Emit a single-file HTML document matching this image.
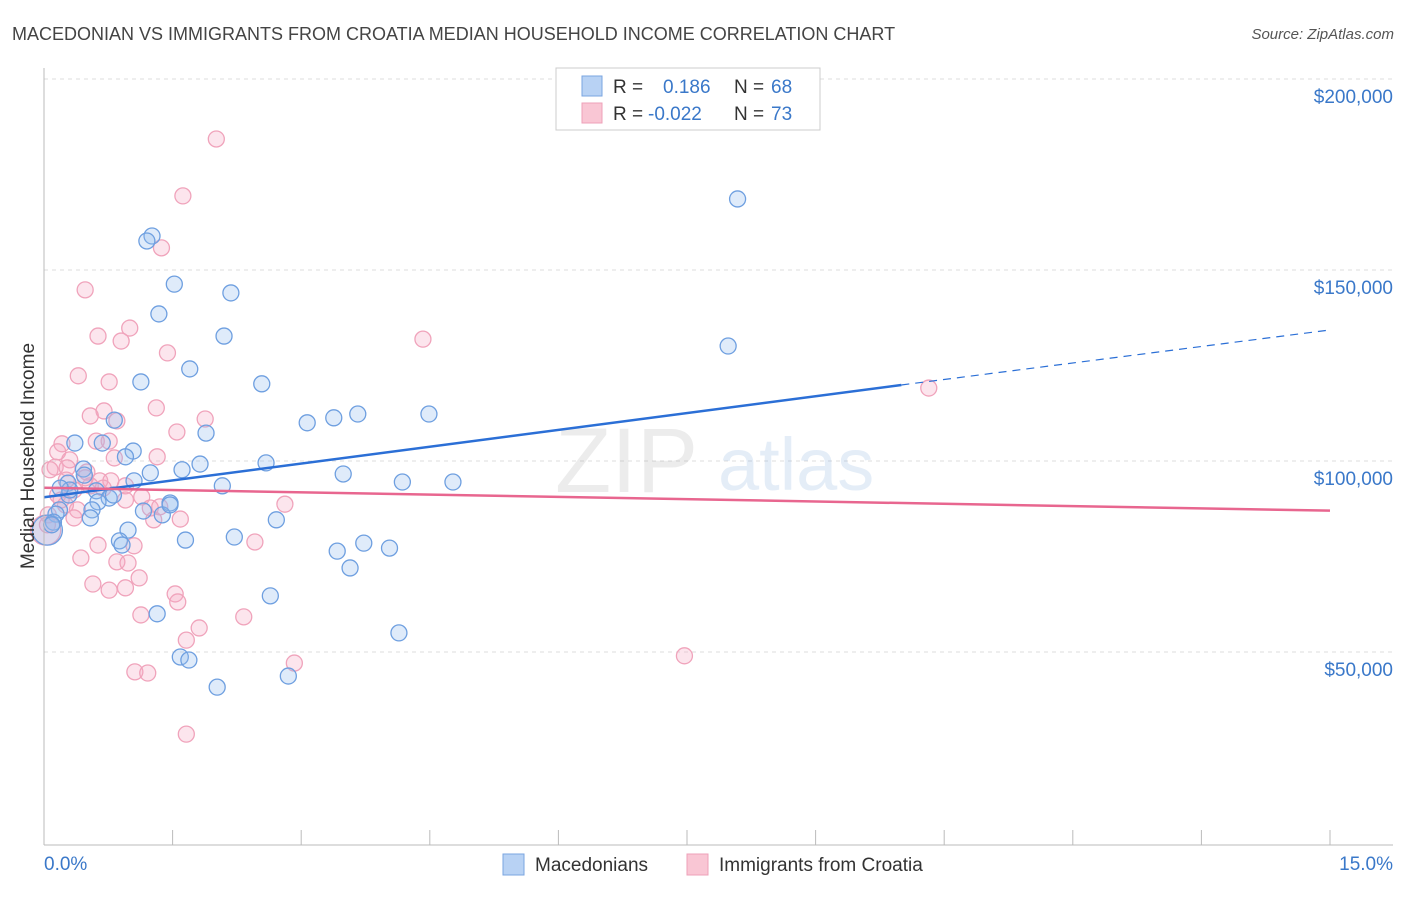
<!DOCTYPE html>
<html><head><meta charset="utf-8"><style>
body{margin:0;background:#fff;font-family:"Liberation Sans",sans-serif;}
svg text{font-family:"Liberation Sans",sans-serif;}
</style></head><body>
<svg id="chart" width="1406" height="892" viewBox="0 0 1406 892" xmlns="http://www.w3.org/2000/svg">
<text x="12" y="40" font-size="18" fill="#444">MACEDONIAN VS IMMIGRANTS FROM CROATIA MEDIAN HOUSEHOLD INCOME CORRELATION CHART</text>
<text x="1394" y="39" font-size="15" fill="#555" text-anchor="end" font-style="italic">Source: ZipAtlas.com</text>
<g id="grid"></g>
<g opacity="0.18">
<text x="555" y="492" font-size="92" fill="#999" font-family="Liberation Serif,serif">ZIP</text>
<text x="718" y="490" font-size="74" fill="#6f9fd8">atlas</text>
</g>
<g id="points"></g>
<g id="trends"></g>
<g id="axes"></g>
<text transform="translate(34,456) rotate(-90)" font-size="19" fill="#333" text-anchor="middle">Median Household Income</text>
<g>
<rect x="556" y="68" width="264" height="62" fill="#fff" stroke="#ccc"/>
<rect x="582" y="76" width="20" height="20" fill="#b8d2f4" stroke="#7aa5e0"/>
<rect x="582" y="103" width="20" height="20" fill="#f9c6d4" stroke="#eea0b8"/>
<text x="613" y="93" font-size="19" fill="#333">R = </text><text x="663" y="93" font-size="19" fill="#3a78c9">0.186</text>
<text x="734" y="93" font-size="19" fill="#333">N = </text><text x="771" y="93" font-size="19" fill="#3a78c9">68</text>
<text x="613" y="120" font-size="19" fill="#333">R = </text><text x="648" y="120" font-size="19" fill="#3a78c9">-0.022</text>
<text x="734" y="120" font-size="19" fill="#333">N = </text><text x="771" y="120" font-size="19" fill="#3a78c9">73</text>
</g>
<g>
<rect x="503" y="854" width="21" height="21" fill="#b8d2f4" stroke="#7aa5e0"/>
<text x="535" y="871" font-size="19" fill="#333">Macedonians</text>
<rect x="687" y="854" width="21" height="21" fill="#f9c6d4" stroke="#eea0b8"/>
<text x="719" y="871" font-size="19" fill="#333">Immigrants from Croatia</text>
</g>
</svg>
<script>
const blueX=[8.09,1.26,1.20,1.52,2.18,1.34,2.10,7.98,1.70,1.13,2.54,4.49,3.66,3.38,3.07,0.82,1.89,0.36,0.68,1.04,0.95,2.59,1.82,1.61,1.24,3.49,0.46,0.47,4.77,4.18,1.05,2.08,0.28,0.61,0.29,0.76,1.47,0.63,0.18,1.16,1.38,0.56,0.54,0.14,2.71,0.11,0.98,2.22,1.65,0.88,0.91,3.73,4.03,3.42,3.57,2.64,1.32,4.14,1.59,1.69,2.02,2.85,0.04,0.09,1.47,0.81,0.30,0.19];
const blueY=[168.6,158.9,157.6,146.3,144.0,138.5,132.7,130.1,124.1,120.7,120.2,112.3,112.3,111.3,110.0,110.7,107.3,104.7,104.7,102.6,101.1,99.5,99.2,97.7,96.9,96.6,97.9,96.3,94.5,94.5,94.8,93.5,94.2,92.2,91.1,90.3,89.0,89.3,87.2,86.9,85.9,87.2,85.1,86.1,84.6,84.0,81.9,80.1,79.3,79.1,78.0,78.5,77.2,76.4,72.0,64.7,60.0,55.0,48.7,47.9,40.8,43.7,81.9,83.3,88.5,91.1,92.4,92.9];
const pinkX=[2.01,1.62,1.37,0.48,1.00,0.63,0.90,4.42,1.44,0.40,0.76,10.32,1.31,0.70,0.54,0.85,1.88,1.55,0.61,0.21,0.76,0.16,1.32,0.82,0.30,0.13,0.27,0.50,0.65,0.78,1.14,0.95,0.35,2.81,0.20,0.39,1.24,1.28,1.59,0.35,0.63,2.46,1.05,0.43,0.85,0.98,1.11,0.57,0.76,0.95,1.53,1.56,1.13,2.33,1.81,1.66,2.92,7.47,1.06,1.21,1.66,0.07,0.05,0.02,0.16,0.25,0.54,1.35,0.69,0.95,0.04,0.48,0.26];
const pinkY=[184.3,169.4,155.8,144.8,134.8,132.7,131.4,131.9,128.3,122.3,120.7,119.1,113.9,113.1,111.8,110.5,111.0,107.6,105.2,104.5,105.2,102.4,101.1,100.8,100.3,98.4,98.2,97.1,94.8,94.8,90.6,93.5,92.4,88.7,89.8,87.2,87.7,84.6,84.8,85.1,78.0,78.8,77.8,74.6,73.6,73.3,69.4,67.8,66.2,66.8,65.2,63.1,59.7,59.2,56.3,53.1,47.1,49.0,44.8,44.5,28.5,97.7,85.9,81.9,91.1,88.5,93.5,88.0,92.9,89.8,83.3,95.6,95.0];
const yTicks=[50,100,150,200];
const yTickLabels=["$50,000","$100,000","$150,000","$200,000"];
const blueTrend=[[0,90.5],[10.0,119.9],[15,134.3]];
const pinkTrend=[[0,93.0],[15,87.0]];
const X0=44,X1=1330,Y0=843;
const sx=v=>X0+(X1-X0)*v/15;
const sy=v=>Y0-v*191/50;
const NS="http://www.w3.org/2000/svg";
function mk(tag,attrs,parent){const e=document.createElementNS(NS,tag);for(const k in attrs)e.setAttribute(k,attrs[k]);parent.appendChild(e);return e;}
const grid=document.getElementById('grid'),axes=document.getElementById('axes'),pts=document.getElementById('points'),tr=document.getElementById('trends');
yTicks.forEach((t,i)=>{
 const l=mk('line',{x1:X0,x2:1393,y1:sy(t),y2:sy(t),stroke:'#ddd','stroke-dasharray':'4,4'},grid);
 
 
 const tx=mk('text',{x:1393,y:sy(t)+24,'font-size':19,fill:'#3a78c9','text-anchor':'end'},axes);
 tx.textContent=yTickLabels[i];
 
 
});
const ax=mk('line',{x1:X0,x2:1393,y1:845,y2:845,stroke:'#bbb'},axes);


const ay=mk('line',{x1:X0,x2:X0,y1:68,y2:845,stroke:'#bbb'},axes);


for(let i=0;i<=10;i++){const t=mk('line',{x1:sx(i*1.5),x2:sx(i*1.5),y1:830,y2:845,stroke:'#bbb'},axes);
 
 }
const xl0=mk('text',{x:44,y:870,'font-size':19,fill:'#3a78c9'},axes);xl0.textContent='0.0%';


const xl1=mk('text',{x:1393,y:870,'font-size':19,fill:'#3a78c9','text-anchor':'end'},axes);xl1.textContent='15.0%';


function drawPts(xs,ys,fill,stroke,name){xs.forEach((x,i)=>{
 const r=(i===xs.length-6&&name==='blue-point')||(name==='pink-point'&&i===63)?15:8;
 const c=mk('circle',{cx:sx(x),cy:sy(ys[i]),r:r,fill:fill,stroke:stroke,'stroke-width':1.3},pts);
 
 });}
drawPts(pinkX,pinkY,'rgba(246,170,195,0.3)','#f0a3bb','pink-point');
drawPts(blueX,blueY,'rgba(150,188,240,0.3)','#6e9fe0','blue-point');
const b1=mk('line',{x1:sx(blueTrend[0][0]),y1:sy(blueTrend[0][1]),x2:sx(blueTrend[1][0]),y2:sy(blueTrend[1][1]),stroke:'#2b6fd6','stroke-width':2.5},tr);


const b2=mk('line',{x1:sx(blueTrend[1][0]),y1:sy(blueTrend[1][1]),x2:sx(blueTrend[2][0]),y2:sy(blueTrend[2][1]),stroke:'#2b6fd6','stroke-width':1.2,'stroke-dasharray':'8,6'},tr);


const p1=mk('line',{x1:sx(pinkTrend[0][0]),y1:sy(pinkTrend[0][1]),x2:sx(pinkTrend[1][0]),y2:sy(pinkTrend[1][1]),stroke:'#e8668f','stroke-width':2.5},tr);


</script>
</body></html>
